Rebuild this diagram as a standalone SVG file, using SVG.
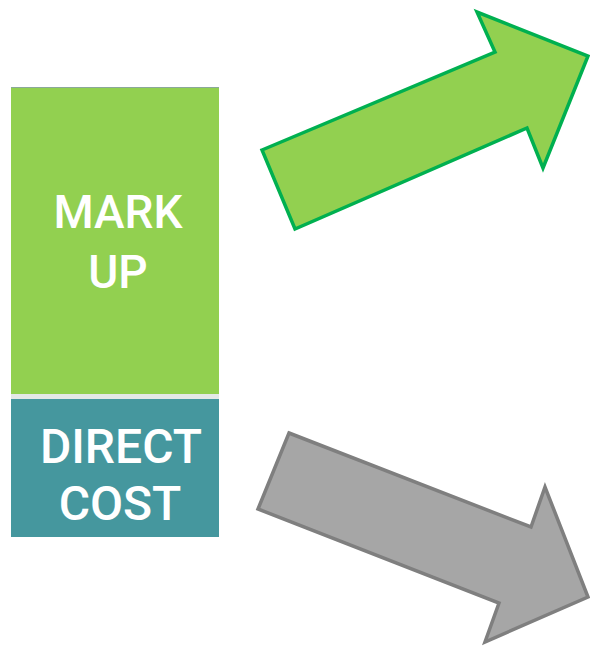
<svg xmlns="http://www.w3.org/2000/svg" width="590" height="649" viewBox="0 0 590 649">
<style>
.lbl{font-family:Roboto,"Open Sans","DejaVu Sans",sans-serif;font-weight:500;fill:#ffffff;text-anchor:middle}
</style>
<rect width="590" height="649" fill="#ffffff"/>
<g id="markup">
<rect x="11" y="87" width="208" height="307" fill="#92D050"/>
<line x1="11" y1="87.5" x2="219" y2="87.5" stroke="#8BA89A" stroke-width="1"/>
<text class="lbl" x="118" y="228" font-size="46">MARK</text>
<text class="lbl" x="118" y="288" font-size="46">UP</text>
</g>
<rect x="11" y="394" width="208" height="5" fill="#E4E8E6"/>
<g id="directcost">
<rect x="11" y="399" width="208" height="138" fill="#45979E"/>
<text class="lbl" x="121" y="463" font-size="48" font-weight="700">DIRECT</text>
<text class="lbl" x="120" y="520" font-size="48" font-weight="700">COST</text>
</g>
<g id="connectors">
<polygon points="262,150 495,52 477,12 588,56 543,168 527,128 295,229" fill="#92D050" stroke="#00B050" stroke-width="3.5" stroke-linejoin="miter"/>
<polygon points="289,433 531,527 545,487 588,597 485,642 499,603 258,509" fill="#A6A6A6" stroke="#7F7F7F" stroke-width="3.5" stroke-linejoin="miter"/>
</g>
</svg>
